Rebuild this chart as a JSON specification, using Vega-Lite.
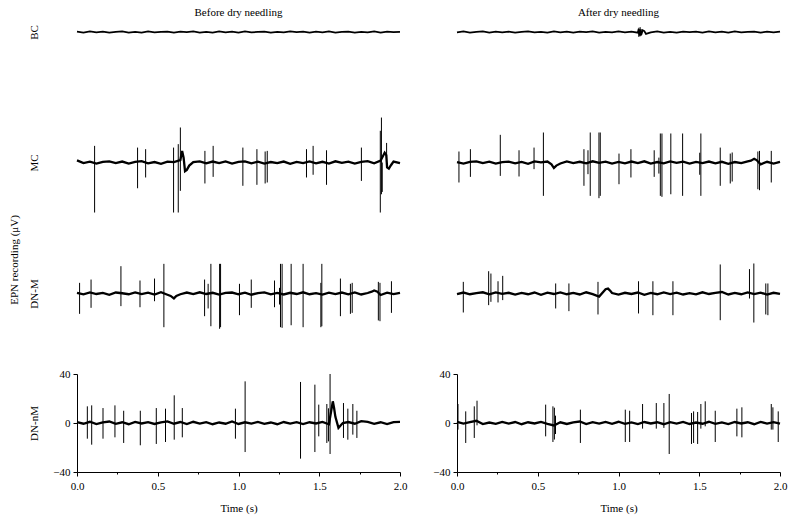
{
"$schema": "https://vega.github.io/schema/vega-lite/v6.json",
"padding": {"left": 9, "top": 7, "right": 5, "bottom": 5},
"spacing": 25,
"title": {"text": "EPN recording (μV)", "orient": "left", "anchor": "middle", "fontSize": 11, "font": "Liberation Serif", "fontWeight": "normal", "offset": 8},
"config": {
  "font": "Liberation Serif",
  "view": {"stroke": null},
  "axis": {"labelFont": "Liberation Serif", "titleFont": "Liberation Serif", "labelFontSize": 11, "titleFontSize": 11, "titleFontWeight": "normal", "labelColor": "black", "titleColor": "black", "domainColor": "black", "tickColor": "black", "grid": false},
  "title": {"font": "Liberation Serif", "fontSize": 11, "fontWeight": "normal", "color": "black"}
},
"datasets": {
"bcL": [{"t":0,"v":0.3},{"t":0.04,"v":-0.4},{"t":0.08,"v":0.5},{"t":0.12,"v":-0.2},{"t":0.16,"v":0.4},{"t":0.2,"v":-0.5},{"t":0.24,"v":0.2},{"t":0.28,"v":0.5},{"t":0.32,"v":-0.4},{"t":0.36,"v":0.1},{"t":0.4,"v":-0.5},{"t":0.44,"v":0.5},{"t":0.48,"v":-0.3},{"t":0.52,"v":0.2},{"t":0.56,"v":0.4},{"t":0.6,"v":-0.5},{"t":0.64,"v":0.3},{"t":0.68,"v":-0.1},{"t":0.72,"v":0.5},{"t":0.76,"v":-0.4},{"t":0.8,"v":0.2},{"t":0.84,"v":-0.5},{"t":0.88,"v":0.5},{"t":0.92,"v":-0.2},{"t":0.96,"v":0.3},{"t":1,"v":-0.4},{"t":1.04,"v":0.5},{"t":1.08,"v":-0.3},{"t":1.12,"v":0.1},{"t":1.16,"v":0.4},{"t":1.2,"v":-0.5},{"t":1.24,"v":0.2},{"t":1.28,"v":-0.3},{"t":1.32,"v":0.5},{"t":1.36,"v":-0.1},{"t":1.4,"v":0.3},{"t":1.44,"v":-0.5},{"t":1.48,"v":0.4},{"t":1.52,"v":-0.2},{"t":1.56,"v":0.5},{"t":1.6,"v":-0.4},{"t":1.64,"v":0.1},{"t":1.68,"v":0.3},{"t":1.72,"v":-0.5},{"t":1.76,"v":0.2},{"t":1.8,"v":-0.3},{"t":1.84,"v":0.5},{"t":1.88,"v":-0.5},{"t":1.92,"v":0.4},{"t":1.96,"v":-0.1},{"t":2,"v":0.2}],
"bcR": [{"t":0,"v":-0.3},{"t":0.04,"v":0.5},{"t":0.08,"v":-0.4},{"t":0.12,"v":0.2},{"t":0.16,"v":0.5},{"t":0.2,"v":-0.5},{"t":0.24,"v":0.3},{"t":0.28,"v":-0.2},{"t":0.32,"v":0.4},{"t":0.36,"v":-0.5},{"t":0.4,"v":0.1},{"t":0.44,"v":0.5},{"t":0.48,"v":-0.3},{"t":0.52,"v":0.2},{"t":0.56,"v":-0.4},{"t":0.6,"v":0.5},{"t":0.64,"v":-0.2},{"t":0.68,"v":0.3},{"t":0.72,"v":-0.5},{"t":0.76,"v":0.4},{"t":0.8,"v":-0.1},{"t":0.84,"v":0.5},{"t":0.88,"v":-0.4},{"t":0.92,"v":0.2},{"t":0.96,"v":-0.3},{"t":1,"v":0.5},{"t":1.04,"v":-0.2},{"t":1.08,"v":0.4},{"t":1.12,"v":-0.5},{"t":1.125,"v":2.5},{"t":1.13,"v":-3.0},{"t":1.135,"v":2.0},{"t":1.14,"v":-2.5},{"t":1.15,"v":1.5},{"t":1.16,"v":0.8},{"t":1.17,"v":-1.5},{"t":1.2,"v":-0.3},{"t":1.24,"v":0.5},{"t":1.28,"v":-0.4},{"t":1.32,"v":0.2},{"t":1.36,"v":-0.5},{"t":1.4,"v":0.4},{"t":1.44,"v":-0.1},{"t":1.48,"v":0.3},{"t":1.52,"v":-0.5},{"t":1.56,"v":0.5},{"t":1.6,"v":-0.2},{"t":1.64,"v":0.3},{"t":1.68,"v":-0.4},{"t":1.72,"v":0.5},{"t":1.76,"v":-0.3},{"t":1.8,"v":0.1},{"t":1.84,"v":0.4},{"t":1.88,"v":-0.5},{"t":1.92,"v":0.3},{"t":1.96,"v":-0.2},{"t":2,"v":0.4}],
"bcRs": [{"t":1.126,"lo":-4.0,"hi":3.5},{"t":1.134,"lo":-3.5,"hi":4.0},{"t":1.14,"lo":-2.5,"hi":2.5}],
"mcL": [{"t":0,"v":1.8},{"t":0.04,"v":-0.5},{"t":0.08,"v":0.7},{"t":0.12,"v":-0.8},{"t":0.16,"v":0.6},{"t":0.2,"v":1.0},{"t":0.24,"v":-0.4},{"t":0.28,"v":0.8},{"t":0.32,"v":-0.9},{"t":0.36,"v":0.5},{"t":0.4,"v":1.1},{"t":0.44,"v":-0.6},{"t":0.48,"v":0.4},{"t":0.52,"v":-1.0},{"t":0.56,"v":0.7},{"t":0.6,"v":0.3},{"t":0.64,"v":2.0},{"t":0.651,"v":9.5},{"t":0.66,"v":4.0},{"t":0.669,"v":-7.0},{"t":0.68,"v":-6.0},{"t":0.695,"v":-2.5},{"t":0.72,"v":0.4},{"t":0.76,"v":1.0},{"t":0.8,"v":-0.7},{"t":0.84,"v":0.8},{"t":0.88,"v":-0.5},{"t":0.92,"v":0.9},{"t":0.96,"v":-0.8},{"t":1,"v":0.6},{"t":1.04,"v":1.0},{"t":1.08,"v":-0.6},{"t":1.12,"v":0.7},{"t":1.16,"v":-0.9},{"t":1.2,"v":0.4},{"t":1.24,"v":-0.5},{"t":1.28,"v":0.8},{"t":1.32,"v":-1.0},{"t":1.36,"v":0.5},{"t":1.4,"v":-0.4},{"t":1.44,"v":0.9},{"t":1.48,"v":-0.7},{"t":1.52,"v":0.6},{"t":1.56,"v":-0.8},{"t":1.6,"v":1.0},{"t":1.64,"v":-0.3},{"t":1.68,"v":0.7},{"t":1.72,"v":-0.9},{"t":1.76,"v":0.5},{"t":1.8,"v":1.1},{"t":1.84,"v":-0.6},{"t":1.88,"v":1.5},{"t":1.905,"v":8.0},{"t":1.915,"v":6.0},{"t":1.92,"v":-4.0},{"t":1.931,"v":-5.0},{"t":1.945,"v":-2.0},{"t":1.96,"v":0.8},{"t":2,"v":-0.5}],
"mcLs": [{"t":0.109,"lo":-40.8,"hi":13.6},{"t":0.375,"lo":-21.0,"hi":12.2},{"t":0.425,"lo":-12.2,"hi":10.9},{"t":0.598,"lo":-40.8,"hi":12.2},{"t":0.627,"lo":-40.8,"hi":15.0},{"t":0.64,"lo":-23.1,"hi":28.6},{"t":0.792,"lo":-17.1,"hi":9.5},{"t":0.843,"lo":-11.7,"hi":13.6},{"t":1.027,"lo":-19.0,"hi":12.2},{"t":1.114,"lo":-18.2,"hi":10.9},{"t":1.165,"lo":-17.1,"hi":9.0},{"t":1.178,"lo":-16.3,"hi":9.5},{"t":1.421,"lo":-12.2,"hi":10.9},{"t":1.462,"lo":-10.0,"hi":13.6},{"t":1.545,"lo":-18.2,"hi":10.0},{"t":1.761,"lo":-15.0,"hi":12.2},{"t":1.878,"lo":-40.8,"hi":25.9},{"t":1.885,"lo":-25.9,"hi":36.7},{"t":1.89,"lo":-24.0,"hi":0},{"t":1.917,"lo":-2.0,"hi":16.0}],
"mcR": [{"t":0,"v":0.4},{"t":0.04,"v":-0.8},{"t":0.08,"v":0.6},{"t":0.12,"v":1.0},{"t":0.16,"v":-0.5},{"t":0.2,"v":0.7},{"t":0.24,"v":-0.9},{"t":0.28,"v":0.3},{"t":0.32,"v":0.8},{"t":0.36,"v":-0.6},{"t":0.4,"v":0.5},{"t":0.44,"v":-1.0},{"t":0.48,"v":0.9},{"t":0.52,"v":0.2},{"t":0.56,"v":0.8},{"t":0.585,"v":-1.5},{"t":0.6,"v":-4.5},{"t":0.615,"v":-2.5},{"t":0.64,"v":-0.8},{"t":0.68,"v":0.9},{"t":0.72,"v":-0.4},{"t":0.76,"v":0.6},{"t":0.8,"v":-0.7},{"t":0.84,"v":1.0},{"t":0.88,"v":-0.3},{"t":0.92,"v":0.7},{"t":0.96,"v":-0.9},{"t":1,"v":0.5},{"t":1.04,"v":-0.6},{"t":1.08,"v":0.8},{"t":1.12,"v":-0.5},{"t":1.16,"v":1.0},{"t":1.2,"v":-0.8},{"t":1.24,"v":0.4},{"t":1.28,"v":-0.6},{"t":1.32,"v":0.9},{"t":1.36,"v":-0.3},{"t":1.4,"v":0.7},{"t":1.44,"v":-0.9},{"t":1.48,"v":0.5},{"t":1.52,"v":-0.4},{"t":1.56,"v":0.8},{"t":1.6,"v":-0.7},{"t":1.64,"v":0.6},{"t":1.68,"v":-1.0},{"t":1.72,"v":0.4},{"t":1.76,"v":-0.5},{"t":1.8,"v":0.9},{"t":1.82,"v":1.5},{"t":1.84,"v":3.0},{"t":1.855,"v":2.0},{"t":1.88,"v":-1.5},{"t":1.92,"v":0.6},{"t":1.96,"v":-0.8},{"t":2,"v":0.5}],
"mcRs": [{"t":0.012,"lo":-16.3,"hi":9.0},{"t":0.083,"lo":-11.7,"hi":10.9},{"t":0.268,"lo":-10.9,"hi":22.6},{"t":0.384,"lo":-11.4,"hi":10.0},{"t":0.477,"lo":-5.4,"hi":12.2},{"t":0.535,"lo":-27.2,"hi":24.5},{"t":0.786,"lo":-19.0,"hi":10.9},{"t":0.811,"lo":-9.5,"hi":10.0},{"t":0.825,"lo":-27.2,"hi":24.5},{"t":0.879,"lo":-29.1,"hi":24.5},{"t":0.887,"lo":-27.2,"hi":24.5},{"t":1.003,"lo":-17.7,"hi":7.3},{"t":1.077,"lo":-12.2,"hi":10.9},{"t":1.221,"lo":-11.7,"hi":10.0},{"t":1.25,"lo":-9.0,"hi":4.0},{"t":1.259,"lo":-27.2,"hi":23.7},{"t":1.269,"lo":-28.0,"hi":23.7},{"t":1.324,"lo":-25.9,"hi":23.7},{"t":1.397,"lo":-27.2,"hi":23.7},{"t":1.503,"lo":-10.0,"hi":8.0},{"t":1.51,"lo":-27.2,"hi":23.7},{"t":1.63,"lo":-19.0,"hi":12.2},{"t":1.692,"lo":-17.1,"hi":7.3},{"t":1.704,"lo":-15.5,"hi":8.2},{"t":1.863,"lo":-21.8,"hi":9.0},{"t":1.873,"lo":-22.6,"hi":9.5},{"t":1.946,"lo":-16.3,"hi":9.5}],
"dmL": [{"t":0,"v":0.6},{"t":0.04,"v":-0.7},{"t":0.08,"v":0.9},{"t":0.12,"v":-0.4},{"t":0.16,"v":0.5},{"t":0.2,"v":-1.0},{"t":0.24,"v":0.8},{"t":0.28,"v":0.2},{"t":0.32,"v":-0.6},{"t":0.36,"v":0.9},{"t":0.4,"v":-0.5},{"t":0.44,"v":0.7},{"t":0.48,"v":-0.8},{"t":0.52,"v":1.0},{"t":0.56,"v":-1.0},{"t":0.58,"v":-2.0},{"t":0.6,"v":-4.0},{"t":0.615,"v":-2.0},{"t":0.64,"v":-0.6},{"t":0.68,"v":0.8},{"t":0.72,"v":-0.5},{"t":0.76,"v":1.0},{"t":0.8,"v":-0.4},{"t":0.84,"v":0.6},{"t":0.88,"v":-0.9},{"t":0.92,"v":0.5},{"t":0.96,"v":0.8},{"t":1,"v":-0.6},{"t":1.04,"v":0.7},{"t":1.08,"v":-1.0},{"t":1.12,"v":0.4},{"t":1.16,"v":0.9},{"t":1.2,"v":-0.7},{"t":1.24,"v":0.5},{"t":1.28,"v":-0.8},{"t":1.32,"v":0.6},{"t":1.36,"v":-0.4},{"t":1.4,"v":1.0},{"t":1.44,"v":-0.6},{"t":1.48,"v":0.3},{"t":1.52,"v":-0.9},{"t":1.56,"v":0.7},{"t":1.6,"v":-0.5},{"t":1.64,"v":0.8},{"t":1.68,"v":-0.6},{"t":1.72,"v":0.9},{"t":1.76,"v":-0.8},{"t":1.8,"v":0.4},{"t":1.825,"v":1.5},{"t":1.84,"v":2.5},{"t":1.86,"v":1.5},{"t":1.88,"v":-1.2},{"t":1.92,"v":0.7},{"t":1.96,"v":-0.5},{"t":2,"v":0.6}],
"dmLs": [{"t":0.016,"lo":-16.6,"hi":8.7},{"t":0.087,"lo":-11.7,"hi":11.4},{"t":0.272,"lo":-10.3,"hi":22.3},{"t":0.39,"lo":-11.2,"hi":10.6},{"t":0.48,"lo":-6.3,"hi":12.2},{"t":0.538,"lo":-27.5,"hi":24.2},{"t":0.79,"lo":-18.5,"hi":11.4},{"t":0.812,"lo":-12.2,"hi":7.9},{"t":0.829,"lo":-26.7,"hi":24.2},{"t":0.883,"lo":-28.8,"hi":24.2},{"t":0.889,"lo":-27.5,"hi":24.2},{"t":1.006,"lo":-17.7,"hi":7.9},{"t":1.079,"lo":-11.7,"hi":11.4},{"t":1.223,"lo":-11.2,"hi":10.6},{"t":1.254,"lo":-9.0,"hi":4.6},{"t":1.26,"lo":-27.5,"hi":24.2},{"t":1.27,"lo":-28.0,"hi":24.2},{"t":1.326,"lo":-25.9,"hi":24.2},{"t":1.4,"lo":-27.5,"hi":24.2},{"t":1.51,"lo":-27.5,"hi":8.7},{"t":1.516,"lo":-26.7,"hi":24.2},{"t":1.631,"lo":-18.5,"hi":12.2},{"t":1.693,"lo":-16.6,"hi":7.9},{"t":1.704,"lo":-15.8,"hi":8.7},{"t":1.866,"lo":-22.0,"hi":9.5},{"t":1.876,"lo":-22.6,"hi":8.7},{"t":1.947,"lo":-15.8,"hi":10.0}],
"dmR": [{"t":0,"v":-0.5},{"t":0.04,"v":0.8},{"t":0.08,"v":-0.6},{"t":0.12,"v":0.4},{"t":0.16,"v":1.0},{"t":0.2,"v":-0.7},{"t":0.24,"v":0.9},{"t":0.28,"v":-0.3},{"t":0.32,"v":0.6},{"t":0.36,"v":-0.9},{"t":0.4,"v":0.5},{"t":0.44,"v":-0.6},{"t":0.48,"v":0.8},{"t":0.52,"v":-1.0},{"t":0.56,"v":0.7},{"t":0.6,"v":-0.4},{"t":0.64,"v":0.9},{"t":0.68,"v":-0.6},{"t":0.72,"v":0.5},{"t":0.76,"v":-0.8},{"t":0.8,"v":1.0},{"t":0.84,"v":-0.5},{"t":0.88,"v":-2.5},{"t":0.92,"v":3.5},{"t":0.935,"v":4.0},{"t":0.95,"v":2.0},{"t":0.96,"v":0.4},{"t":1,"v":-0.9},{"t":1.04,"v":0.6},{"t":1.08,"v":-0.4},{"t":1.12,"v":0.8},{"t":1.16,"v":-1.0},{"t":1.2,"v":0.5},{"t":1.24,"v":-0.6},{"t":1.28,"v":0.9},{"t":1.32,"v":-0.5},{"t":1.36,"v":0.7},{"t":1.4,"v":-0.8},{"t":1.44,"v":0.3},{"t":1.48,"v":-0.7},{"t":1.52,"v":1.0},{"t":1.56,"v":-0.4},{"t":1.6,"v":0.6},{"t":1.64,"v":1.2},{"t":1.68,"v":-0.8},{"t":1.72,"v":0.5},{"t":1.76,"v":-0.6},{"t":1.8,"v":0.9},{"t":1.84,"v":-0.5},{"t":1.88,"v":0.7},{"t":1.92,"v":-0.9},{"t":1.96,"v":0.6},{"t":2,"v":-0.3}],
"dmRs": [{"t":0.039,"lo":-15.5,"hi":9.5},{"t":0.196,"lo":-9.5,"hi":18.2},{"t":0.21,"lo":-6.8,"hi":16.3},{"t":0.254,"lo":-7.3,"hi":10.0},{"t":0.283,"lo":-5.4,"hi":14.4},{"t":0.611,"lo":-12.2,"hi":8.2},{"t":0.693,"lo":-14.4,"hi":8.2},{"t":0.873,"lo":-17.1,"hi":9.5},{"t":1.124,"lo":-16.3,"hi":10.0},{"t":1.213,"lo":-17.7,"hi":10.0},{"t":1.337,"lo":-17.7,"hi":10.0},{"t":1.63,"lo":-21.8,"hi":23.7},{"t":1.811,"lo":-4.1,"hi":19.9},{"t":1.838,"lo":-23.7,"hi":24.5},{"t":1.912,"lo":-17.1,"hi":8.2},{"t":1.925,"lo":-17.7,"hi":8.2}],
"dnL": [{"t":0,"v":0.8},{"t":0.04,"v":-0.6},{"t":0.08,"v":1.0},{"t":0.12,"v":-0.9},{"t":0.16,"v":0.5},{"t":0.2,"v":1.2},{"t":0.24,"v":-0.7},{"t":0.28,"v":0.6},{"t":0.32,"v":-1.0},{"t":0.36,"v":0.9},{"t":0.4,"v":-0.4},{"t":0.44,"v":0.7},{"t":0.48,"v":-0.8},{"t":0.52,"v":0.5},{"t":0.56,"v":1.3},{"t":0.6,"v":-0.6},{"t":0.64,"v":0.8},{"t":0.68,"v":-0.9},{"t":0.72,"v":1.0},{"t":0.76,"v":-0.5},{"t":0.8,"v":0.7},{"t":0.84,"v":-1.0},{"t":0.88,"v":0.4},{"t":0.92,"v":-0.6},{"t":0.96,"v":1.2},{"t":1,"v":-0.8},{"t":1.04,"v":0.6},{"t":1.08,"v":-0.5},{"t":1.12,"v":0.9},{"t":1.16,"v":-0.7},{"t":1.2,"v":0.4},{"t":1.24,"v":-1.0},{"t":1.28,"v":0.8},{"t":1.32,"v":-0.5},{"t":1.36,"v":0.7},{"t":1.4,"v":-0.9},{"t":1.44,"v":0.6},{"t":1.48,"v":-0.4},{"t":1.52,"v":0.9},{"t":1.56,"v":-1.0},{"t":1.584,"v":17.7},{"t":1.592,"v":12.0},{"t":1.6,"v":5.0},{"t":1.619,"v":-4.0},{"t":1.632,"v":-2.0},{"t":1.646,"v":0},{"t":1.68,"v":0.8},{"t":1.72,"v":-0.6},{"t":1.76,"v":1.5},{"t":1.8,"v":0.9},{"t":1.84,"v":-0.7},{"t":1.88,"v":0.6},{"t":1.92,"v":-0.9},{"t":1.96,"v":0.7},{"t":2,"v":1.0}],
"dnLs": [{"t":0.064,"lo":-12.8,"hi":13.6},{"t":0.091,"lo":-17.7,"hi":14.4},{"t":0.161,"lo":-12.8,"hi":12.2},{"t":0.235,"lo":-11.7,"hi":14.4},{"t":0.289,"lo":-16.3,"hi":10.0},{"t":0.392,"lo":-18.2,"hi":10.0},{"t":0.491,"lo":-17.1,"hi":12.2},{"t":0.548,"lo":-15.5,"hi":11.7},{"t":0.602,"lo":-13.6,"hi":22.6},{"t":0.652,"lo":-11.7,"hi":12.2},{"t":0.981,"lo":-12.8,"hi":11.7},{"t":1.041,"lo":-23.7,"hi":34.0},{"t":1.384,"lo":-29.1,"hi":33.5},{"t":1.473,"lo":-23.7,"hi":31.3},{"t":1.497,"lo":-10.9,"hi":15.0},{"t":1.547,"lo":-16.3,"hi":15.5},{"t":1.557,"lo":-15.0,"hi":12.0},{"t":1.567,"lo":-25.3,"hi":40.0},{"t":1.65,"lo":-12.2,"hi":16.3},{"t":1.677,"lo":-13.6,"hi":11.7},{"t":1.708,"lo":-9.5,"hi":15.5},{"t":1.733,"lo":-12.2,"hi":10.0}],
"dnR": [{"t":0,"v":1.0},{"t":0.04,"v":-0.5},{"t":0.08,"v":0.7},{"t":0.12,"v":1.8},{"t":0.16,"v":-0.9},{"t":0.2,"v":0.4},{"t":0.24,"v":-0.7},{"t":0.28,"v":0.9},{"t":0.32,"v":-0.5},{"t":0.36,"v":0.8},{"t":0.4,"v":-1.0},{"t":0.44,"v":0.6},{"t":0.48,"v":-0.4},{"t":0.52,"v":0.9},{"t":0.56,"v":-0.7},{"t":0.6,"v":-2.0},{"t":0.64,"v":0.6},{"t":0.68,"v":-0.8},{"t":0.72,"v":0.5},{"t":0.76,"v":1.2},{"t":0.8,"v":-0.9},{"t":0.84,"v":0.7},{"t":0.88,"v":-0.5},{"t":0.92,"v":0.9},{"t":0.96,"v":-0.6},{"t":1,"v":1.0},{"t":1.04,"v":-0.7},{"t":1.08,"v":0.5},{"t":1.12,"v":-0.9},{"t":1.16,"v":0.8},{"t":1.2,"v":-0.4},{"t":1.24,"v":0.6},{"t":1.28,"v":-1.0},{"t":1.32,"v":0.7},{"t":1.36,"v":-0.5},{"t":1.4,"v":0.9},{"t":1.44,"v":-0.8},{"t":1.48,"v":0.4},{"t":1.52,"v":-0.6},{"t":1.56,"v":1.0},{"t":1.6,"v":-0.7},{"t":1.64,"v":0.5},{"t":1.68,"v":-0.9},{"t":1.72,"v":0.8},{"t":1.76,"v":-0.4},{"t":1.8,"v":0.6},{"t":1.84,"v":-1.0},{"t":1.88,"v":0.9},{"t":1.92,"v":-0.5},{"t":1.96,"v":0.7},{"t":2,"v":-0.6}],
"dnRs": [{"t":0.006,"lo":-5.4,"hi":15.5},{"t":0.054,"lo":-16.3,"hi":9.5},{"t":0.107,"lo":-12.2,"hi":13.6},{"t":0.124,"lo":-1.9,"hi":18.2},{"t":0.549,"lo":-10.9,"hi":15.0},{"t":0.594,"lo":-15.5,"hi":13.6},{"t":0.603,"lo":-13.5,"hi":12.5},{"t":0.61,"lo":-9.0,"hi":6.0},{"t":0.764,"lo":-16.3,"hi":10.9},{"t":1.042,"lo":-15.5,"hi":10.9},{"t":1.069,"lo":-15.5,"hi":10.0},{"t":1.149,"lo":-4.6,"hi":15.5},{"t":1.234,"lo":-4.6,"hi":16.3},{"t":1.281,"lo":-4.0,"hi":16.3},{"t":1.314,"lo":-25.3,"hi":23.7},{"t":1.452,"lo":-17.1,"hi":8.2},{"t":1.465,"lo":-16.3,"hi":9.5},{"t":1.49,"lo":-17.1,"hi":9.0},{"t":1.51,"lo":-4.6,"hi":15.5},{"t":1.537,"lo":-2.7,"hi":17.7},{"t":1.599,"lo":-15.5,"hi":10.0},{"t":1.733,"lo":-10.9,"hi":11.7},{"t":1.764,"lo":-11.7,"hi":12.8},{"t":1.946,"lo":-5.4,"hi":15.5},{"t":1.956,"lo":-5.4,"hi":12.8},{"t":1.989,"lo":-15.5,"hi":9.5}]
},
"hconcat": [
 {"spacing": 0, "vconcat": [
  {"width": 323, "height": 80,
   "title": {"text": "Before dry needling", "anchor": "middle", "offset": 4},
   "layer": [
    {"data": {"name": "bcL"}, "mark": {"type": "line", "color": "black", "strokeWidth": 1.8},
     "encoding": {"x": {"field": "t", "type": "quantitative", "scale": {"domain": [0, 2], "nice": false}, "axis": null},
                  "y": {"field": "v", "type": "quantitative", "scale": {"domain": [-57.1, 8.2], "nice": false, "zero": false}, "axis": {"title": "BC", "domain": false, "ticks": false, "labels": false, "titleX": -38, "titleY": 10}}}}
   ]},
  {"width": 323, "height": 130,
   "layer": [
    {"data": {"name": "mcL"}, "mark": {"type": "line", "color": "black", "strokeWidth": 2.3},
     "encoding": {"x": {"field": "t", "type": "quantitative", "scale": {"domain": [0, 2], "nice": false}, "axis": null},
                  "y": {"field": "v", "type": "quantitative", "scale": {"domain": [-56.7, 49.4], "nice": false, "zero": false}, "axis": {"title": "MC", "domain": false, "ticks": false, "labels": false, "titleX": -38, "titleY": 60.5}}}},
    {"data": {"name": "mcLs"}, "mark": {"type": "rule", "color": "black", "strokeWidth": 1},
     "encoding": {"x": {"field": "t", "type": "quantitative"}, "y": {"field": "lo", "type": "quantitative"}, "y2": {"field": "hi"}}}
   ]},
  {"width": 323, "height": 136,
   "layer": [
    {"data": {"name": "dmL"}, "mark": {"type": "line", "color": "black", "strokeWidth": 2.3},
     "encoding": {"x": {"field": "t", "type": "quantitative", "scale": {"domain": [0, 2], "nice": false}, "axis": null},
                  "y": {"field": "v", "type": "quantitative", "scale": {"domain": [-60.8, 50.2], "nice": false, "zero": false}, "axis": {"title": "DN-M", "domain": false, "ticks": false, "labels": false, "titleX": -38, "titleY": 61.5}}}},
    {"data": {"name": "dmLs"}, "mark": {"type": "rule", "color": "black", "strokeWidth": 1},
     "encoding": {"x": {"field": "t", "type": "quantitative"}, "y": {"field": "lo", "type": "quantitative"}, "y2": {"field": "hi"}}}
   ]},
  {"width": 323, "height": 98,
   "layer": [
    {"data": {"name": "dnL"}, "mark": {"type": "line", "color": "black", "strokeWidth": 2.3},
     "encoding": {"x": {"field": "t", "type": "quantitative", "scale": {"domain": [0, 2], "nice": false},
                        "axis": {"title": "Time (s)", "values": [0, 0.25, 0.5, 0.75, 1, 1.25, 1.5, 1.75, 2], "format": ".1f", "labelExpr": "datum.value * 4 % 2 == 1 ? '' : datum.label", "labelOverlap": false, "labelFlush": false, "tickSize": {"condition": {"test": "datum.value * 4 % 2 == 1", "value": 2}, "value": 4}, "labelPadding": 4, "titlePadding": 11}},
                  "y": {"field": "v", "type": "quantitative", "scale": {"domain": [-40, 40], "nice": false, "zero": false}, "axis": {"title": "DN-nM", "values": [-40, 0, 40], "tickSize": 4, "labelPadding": 3, "titleX": -38}}}},
    {"data": {"name": "dnLs"}, "mark": {"type": "rule", "color": "black", "strokeWidth": 1},
     "encoding": {"x": {"field": "t", "type": "quantitative"}, "y": {"field": "lo", "type": "quantitative"}, "y2": {"field": "hi"}}}
   ]}
 ]},
 {"spacing": 0, "vconcat": [
  {"width": 323, "height": 80,
   "title": {"text": "After dry needling", "anchor": "middle", "offset": 4},
   "layer": [
    {"data": {"name": "bcR"}, "mark": {"type": "line", "color": "black", "strokeWidth": 1.8},
     "encoding": {"x": {"field": "t", "type": "quantitative", "scale": {"domain": [0, 2], "nice": false}, "axis": null},
                  "y": {"field": "v", "type": "quantitative", "scale": {"domain": [-57.1, 8.2], "nice": false, "zero": false}, "axis": null}}},
    {"data": {"name": "bcRs"}, "mark": {"type": "rule", "color": "black", "strokeWidth": 1},
     "encoding": {"x": {"field": "t", "type": "quantitative"}, "y": {"field": "lo", "type": "quantitative"}, "y2": {"field": "hi"}}}
   ]},
  {"width": 323, "height": 130,
   "layer": [
    {"data": {"name": "mcR"}, "mark": {"type": "line", "color": "black", "strokeWidth": 2.3},
     "encoding": {"x": {"field": "t", "type": "quantitative", "scale": {"domain": [0, 2], "nice": false}, "axis": null},
                  "y": {"field": "v", "type": "quantitative", "scale": {"domain": [-56.7, 49.4], "nice": false, "zero": false}, "axis": null}}},
    {"data": {"name": "mcRs"}, "mark": {"type": "rule", "color": "black", "strokeWidth": 1},
     "encoding": {"x": {"field": "t", "type": "quantitative"}, "y": {"field": "lo", "type": "quantitative"}, "y2": {"field": "hi"}}}
   ]},
  {"width": 323, "height": 136,
   "layer": [
    {"data": {"name": "dmR"}, "mark": {"type": "line", "color": "black", "strokeWidth": 2.3},
     "encoding": {"x": {"field": "t", "type": "quantitative", "scale": {"domain": [0, 2], "nice": false}, "axis": null},
                  "y": {"field": "v", "type": "quantitative", "scale": {"domain": [-60.8, 50.2], "nice": false, "zero": false}, "axis": null}}},
    {"data": {"name": "dmRs"}, "mark": {"type": "rule", "color": "black", "strokeWidth": 1},
     "encoding": {"x": {"field": "t", "type": "quantitative"}, "y": {"field": "lo", "type": "quantitative"}, "y2": {"field": "hi"}}}
   ]},
  {"width": 323, "height": 98,
   "layer": [
    {"data": {"name": "dnR"}, "mark": {"type": "line", "color": "black", "strokeWidth": 2.3},
     "encoding": {"x": {"field": "t", "type": "quantitative", "scale": {"domain": [0, 2], "nice": false},
                        "axis": {"title": "Time (s)", "values": [0, 0.25, 0.5, 0.75, 1, 1.25, 1.5, 1.75, 2], "format": ".1f", "labelExpr": "datum.value * 4 % 2 == 1 ? '' : datum.label", "labelOverlap": false, "labelFlush": false, "tickSize": {"condition": {"test": "datum.value * 4 % 2 == 1", "value": 2}, "value": 4}, "labelPadding": 4, "titlePadding": 11}},
                  "y": {"field": "v", "type": "quantitative", "scale": {"domain": [-40, 40], "nice": false, "zero": false}, "axis": {"title": null, "values": [-40, 0, 40], "tickSize": 4, "labelPadding": 3}}}},
    {"data": {"name": "dnRs"}, "mark": {"type": "rule", "color": "black", "strokeWidth": 1},
     "encoding": {"x": {"field": "t", "type": "quantitative"}, "y": {"field": "lo", "type": "quantitative"}, "y2": {"field": "hi"}}}
   ]}
 ]}
]
}
